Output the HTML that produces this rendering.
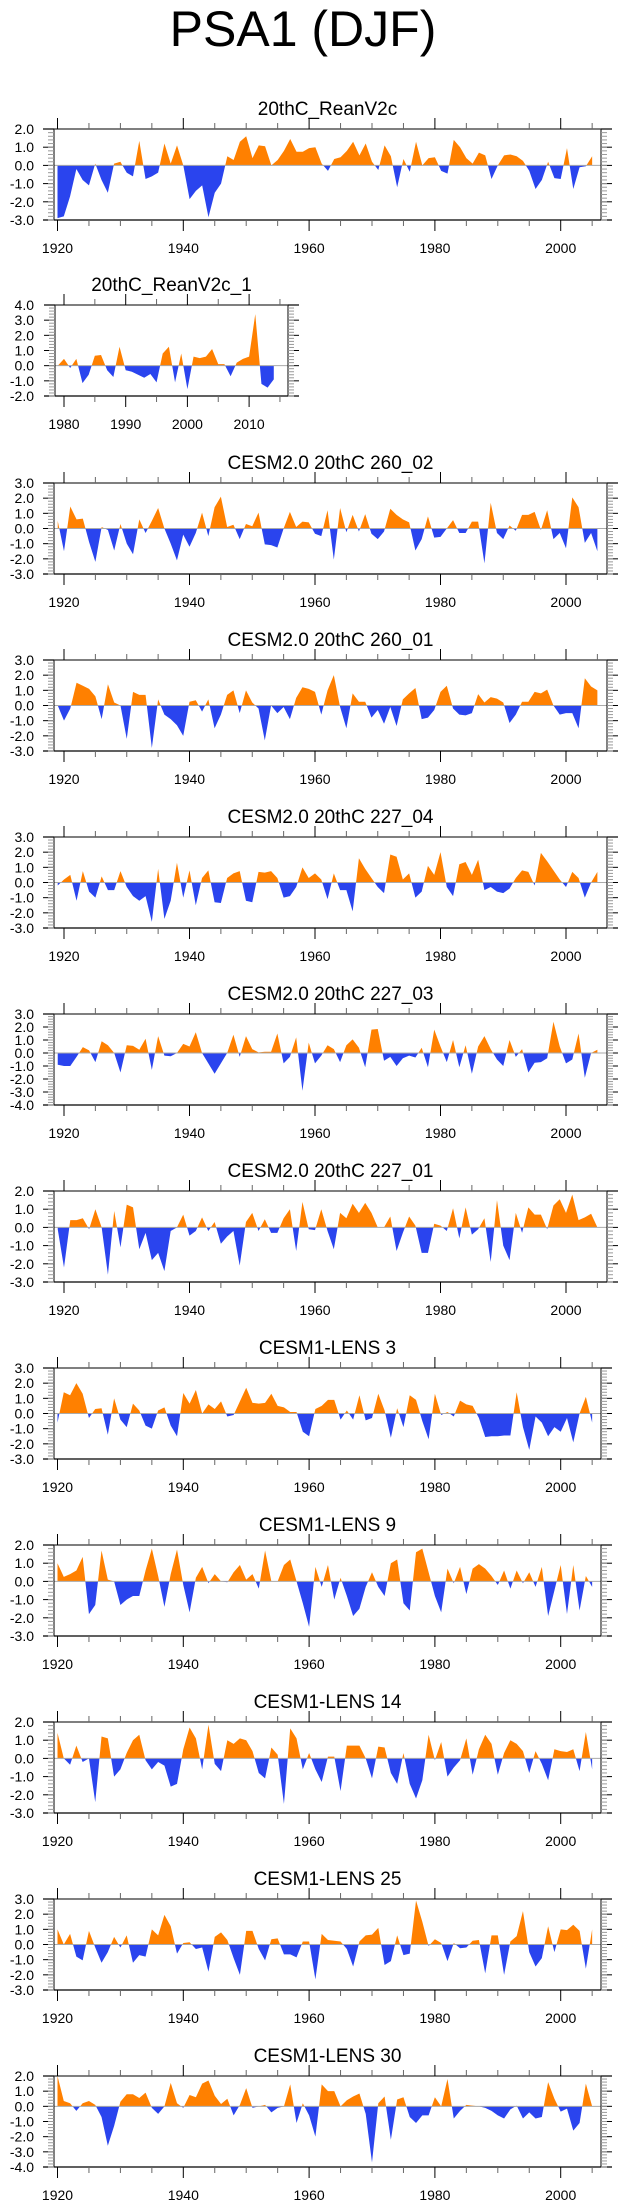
<!DOCTYPE html>
<html><head><meta charset="utf-8"><title>PSA1 (DJF)</title>
<style>
html,body{margin:0;padding:0;background:#fff;}
svg{display:block;font-family:"Liberation Sans",Arial,sans-serif;}
</style></head>
<body>
<svg id="fig" width="623" height="2209" viewBox="0 0 623 2209" xmlns="http://www.w3.org/2000/svg">
<text x="303" y="46" font-size="50" text-anchor="middle">PSA1 (DJF)</text>
</svg>
<script>
// ---- data ----
const titles = ["20thC_ReanV2c","20thC_ReanV2c_1","CESM2.0 20thC 260_02","CESM2.0 20thC 260_01","CESM2.0 20thC 227_04","CESM2.0 20thC 227_03","CESM2.0 20thC 227_01","CESM1-LENS 3","CESM1-LENS 9","CESM1-LENS 14","CESM1-LENS 25","CESM1-LENS 30"];
const startYears = [1920,1979,1919,1919,1919,1919,1919,1920,1920,1920,1920,1920];
const yMax = [2,4,3,3,3,3,2,3,2,2,3,2];
const yMin = [-3,-2,-3,-3,-3,-4,-3,-3,-3,-3,-3,-4];
const xTickLabels = [[1920,1940,1960,1980,2000],[1980,1990,2000,2010]];
const s0 = [-2.9,-2.8,-1.7,-0.2,-0.8,-1.1,0.1,-0.8,-1.5,0.1,0.2,-0.4,-0.6,1.35,-0.75,-0.6,-0.4,1.2,0.1,1.1,0.0,-1.85,-1.4,-1.1,-2.85,-1.5,-1.0,0.5,0.3,1.3,1.6,0.4,1.1,1.05,0.0,0.3,0.8,1.45,0.75,0.75,0.95,1.0,0.1,-0.3,0.35,0.45,0.8,1.3,0.55,1.2,0.2,-0.25,1.1,0.5,-1.2,0.35,-0.35,1.3,0.0,0.4,0.45,-0.3,-0.45,1.4,1.0,0.4,0.1,0.7,0.55,-0.75,0.0,0.55,0.6,0.5,0.25,-0.3,-1.3,-0.8,0.2,-0.7,-0.75,0.95,-1.3,-0.1,-0.05,0.5];
const s1 = [0.0,0.45,-0.15,0.45,-1.15,-0.6,0.65,0.7,-0.3,-0.75,1.25,-0.3,-0.4,-0.6,-0.8,-0.55,-1.1,0.8,1.25,-1.1,0.8,-1.55,0.6,0.5,0.6,1.1,0.1,0.1,-0.7,0.2,0.45,0.6,3.4,-1.2,-1.45,-0.9];
const s2 = [0.5,-1.5,1.45,0.6,0.65,-0.9,-2.2,0.1,-0.1,-1.45,0.3,-1.0,-1.7,0.6,-0.3,0.5,1.35,0.0,-1.0,-2.1,-0.4,-1.2,-0.3,1.05,-0.5,1.4,2.1,0.1,0.25,-0.7,0.3,0.15,1.05,-1.05,-1.1,-1.25,0.0,1.1,0.1,0.45,0.4,-0.35,-0.5,1.2,-2.05,1.35,-0.25,0.9,-0.2,0.95,-0.35,-0.7,-0.2,1.3,0.9,0.6,0.4,-1.45,-0.7,0.8,-0.6,-0.55,0.0,0.55,-0.3,-0.3,0.45,0.45,-2.3,1.7,-0.3,-0.7,0.2,-0.15,0.9,0.9,1.1,-0.1,1.2,-0.7,-0.3,-1.3,2.05,1.4,-0.95,-0.3,-1.5];
const s3 = [0,-1.0,-0.2,1.5,1.3,1.1,0.6,-0.9,1.4,0.2,0.0,-2.2,0.9,0.7,0.7,-2.8,0.4,-0.6,-0.9,-1.3,-2.0,0.25,0.35,-0.4,0.4,-1.5,-0.6,0.7,1.0,-0.5,1.0,0.2,-0.2,-2.3,0.0,-0.5,-0.1,-0.9,0.5,1.2,1.1,0.9,-0.6,1.0,2.0,-0.1,-1.5,0.8,0.25,0.25,-0.8,-0.3,-1.2,-0.1,-1.35,0.4,0.8,1.15,-0.9,-0.8,-0.3,0.9,1.3,-0.2,-0.6,-0.65,-0.5,0.75,0.2,0.55,0.45,0.2,-1.15,-0.6,0.25,0.25,0.9,0.8,1.05,0.0,-0.6,-0.5,-0.5,-1.5,1.8,1.25,1.0];
const s4 = [-0.2,0.2,0.5,-1.2,0.75,-0.6,-1.0,0.4,-0.5,-0.5,0.75,-0.3,-0.9,-1.2,-0.9,-2.6,0.9,-2.4,-1.2,1.3,-1.0,0.8,-1.5,0.3,0.8,-1.3,-1.35,0.3,0.6,0.75,-1.2,-1.3,0.7,0.65,0.75,0.3,-1.0,-0.9,-0.3,1.0,0.3,0.6,0.2,-1.1,0.6,-0.5,-0.5,-1.9,1.6,0.9,0.3,-0.3,-0.7,1.85,1.7,0.2,0.6,-1.0,-0.6,1.1,0.5,2.0,-0.3,-0.9,1.2,1.35,0.5,1.5,-0.5,-0.3,-0.6,-0.7,-0.4,0.3,0.8,0.7,-0.2,1.95,1.4,0.8,0.2,-0.3,0.7,0.3,-1.0,0.0,0.7];
const s5 = [-0.9,-1.0,-1.0,-0.3,0.45,0.2,-0.7,0.9,0.6,0.0,-1.5,0.6,0.55,0.25,1.1,-1.3,1.3,-0.2,-0.25,0.0,0.7,0.5,1.6,0.0,-0.8,-1.6,-0.8,0.0,1.4,-0.3,1.3,0.3,0.05,0.1,0.1,1.5,-0.8,-0.3,1.2,-2.9,0.8,-0.8,-0.2,0.6,0.3,-0.7,0.6,1.05,0.4,-1.1,1.8,1.85,-0.6,-0.3,-1.0,-0.4,-0.2,-0.35,0.4,-1.1,1.8,0.5,-0.7,1.0,-1.1,0.6,-1.6,0.5,1.3,0.3,-0.5,-1.0,1.0,-0.3,0.3,-1.5,-0.75,-0.7,-0.4,2.4,0.5,-0.8,-0.5,1.5,-1.9,0.0,0.25];
const s6 = [-0.1,-2.2,0.4,0.4,0.5,-0.1,1.0,0.0,-2.6,0.9,-1.1,1.25,1.1,-1.2,-0.3,-1.8,-1.4,-2.4,-0.2,0.0,0.7,-0.45,-0.2,0.55,-0.2,0.3,-0.9,-0.5,-0.2,-2.1,0.3,0.8,-0.2,0.45,-0.3,-0.3,0.5,1.0,-1.3,1.4,-0.1,-0.15,1.0,-0.2,-1.2,0.8,0.5,1.3,0.8,1.35,0.8,0.0,0.0,0.6,-1.3,-0.3,0.6,0.1,-1.4,-1.4,0.2,0.1,-0.2,1.05,-0.6,1.1,-0.4,-0.1,0.5,-1.9,1.5,-1.0,-1.8,0.8,-0.3,1.1,0.7,0.7,-0.1,1.2,1.55,0.8,1.8,0.4,0.55,0.75,0.0];
const s7 = [-0.6,1.4,1.2,2.0,1.3,-0.3,0.3,0.35,-1.4,1.0,-0.4,-0.9,0.65,0.2,-0.8,-1.0,0.2,0.4,-0.8,-1.5,1.35,0.65,1.55,0.0,0.6,0.3,0.8,-0.2,-0.1,0.8,1.7,0.7,0.65,0.7,1.3,0.5,0.4,0.1,0.1,-1.2,-1.5,0.3,0.5,0.9,0.9,-0.4,0.2,-0.4,1.2,-0.45,-0.3,1.3,0.2,-1.6,0.35,-0.9,1.2,0.9,-0.5,-1.7,1.3,-0.1,0.1,-0.2,0.85,0.6,0.5,-0.3,-1.55,-1.5,-1.5,-1.45,-1.45,1.4,-0.9,-2.4,-0.2,-0.6,-1.5,-0.9,-1.2,-0.3,-1.9,0.0,1.1,-0.6];
const s8 = [1.0,0.25,0.4,0.6,1.35,-1.8,-1.3,1.7,0.1,0.0,-1.3,-1.0,-0.8,-0.8,0.6,1.8,0.3,-1.4,0.4,1.75,-0.2,-1.7,0.2,0.8,-0.1,0.4,0.0,-0.05,0.5,0.9,0.1,0.4,-0.4,1.7,0.0,0.0,0.9,1.2,0.0,-1.2,-2.5,0.8,-0.3,0.9,-1.0,0.2,-0.8,-1.9,-1.5,-0.3,0.5,-0.3,-0.8,1.0,1.2,-1.2,-1.6,1.6,1.8,0.5,-0.8,-1.7,0.7,-0.1,0.8,-0.7,0.7,0.95,0.7,0.3,-0.2,0.6,-0.4,0.6,-0.1,0.5,-0.3,0.8,-1.9,-0.5,0.9,-1.8,0.9,-1.6,0.3,-0.3];
const s9 = [1.4,0.0,-0.35,0.7,-0.2,0.0,-2.4,1.2,1.1,-1.0,-0.6,0.3,1.0,1.3,-0.1,-0.6,-0.2,-0.4,-1.55,-1.4,0.5,1.7,1.1,-0.6,1.85,-0.3,-0.7,1.0,0.8,1.1,1.0,0.4,-0.8,-1.1,0.6,0.2,-2.5,1.65,1.1,-0.6,0.3,-0.6,-1.3,0.1,0.1,-1.8,0.7,0.7,0.7,0.0,-1.1,0.65,0.6,-0.8,-1.4,0.3,-1.4,-2.2,-1.2,1.3,-0.1,0.9,-1.0,-0.5,-0.1,1.1,-0.9,0.5,1.3,0.8,-0.9,0.3,1.0,0.8,0.4,-0.8,0.4,-0.3,-1.2,0.5,0.4,0.35,0.5,-0.7,1.45,-0.6];
const s10 = [1.0,0.0,0.7,-0.8,-1.05,0.9,-0.2,-1.2,-0.5,0.5,-0.2,0.6,-1.2,-0.7,-0.8,1.0,0.6,1.95,1.2,-0.6,0.1,0.15,-0.3,-0.2,-1.8,0.5,0.8,0.3,-0.9,-2.0,0.9,0.9,-0.3,-1.05,0.35,0.4,-0.65,-0.65,-0.85,0.2,0.2,-2.3,0.7,0.3,0.25,0.2,-0.3,-1.45,0.2,0.6,0.65,1.1,-1.35,-1.1,0.6,-0.7,-0.6,2.9,1.5,-0.1,0.35,0.1,-1.1,0.1,-0.25,-0.2,0.25,0.3,-1.9,0.6,0.6,-2.0,0.2,0.55,2.2,-0.5,-1.45,-0.9,1.2,-0.5,1.0,0.95,1.3,0.9,-1.6,1.0];
const s11 = [2.0,0.35,0.2,-0.3,0.2,0.35,0.1,-0.7,-2.6,-1.3,0.3,0.8,0.8,0.55,0.9,-0.1,-0.5,0.0,1.55,0.2,-0.1,0.75,0.6,1.5,1.7,0.7,0.15,0.5,-0.6,0.1,1.2,-0.1,0.0,0.1,-0.4,-0.1,0.0,1.45,-1.1,0.2,-0.6,-2.0,1.45,1.0,1.0,0.0,0.4,0.65,0.85,-0.5,-3.7,0.2,0.65,-2.2,0.45,0.6,-0.7,-1.1,-0.6,-0.6,0.6,0.0,1.8,-0.8,-0.3,0.1,0.05,0.0,-0.1,-0.3,-0.6,-0.8,-0.2,0.05,-0.8,-0.4,-0.8,-0.7,1.6,0.5,-0.35,-0.15,-1.6,-1.1,1.5,0.0];
const series = [s0,s1,s2,s3,s4,s5,s6,s7,s8,s9,s10,s11];

// ---- layout ----
const NS = "http://www.w3.org/2000/svg";
const svg = document.getElementById('fig');
const BOX_H = 91;
const tops = [129,305,483,660,837,1014,1191,1368,1545,1722,1899,2076];
const ORANGE = "#ff8000", BLUE = "#2a44ee";
function mk(tag, attrs, parent){
  const e = document.createElementNS(NS, tag);
  for (const k in attrs) e.setAttribute(k, attrs[k]);
  (parent||svg).appendChild(e);
  return e;
}
function geom(i){
  if (i === 1) return {left:55,right:288,x0:64,y0:1980,ppy:6.17,major:10,minor:5};
  if (i >= 2 && i <= 6) return {left:54,right:607,x0:64,y0:1920,ppy:6.275,major:20,minor:5};
  return {left:54,right:601,x0:57.5,y0:1920,ppy:6.29,major:20,minor:5};
}
titles.forEach((t, i) => {
  const g0 = geom(i);
  const top = tops[i], bot = top + BOX_H;
  const xs = yr => g0.x0 + (yr - g0.y0) * g0.ppy;
  const ys = v => top + (yMax[i] - v) / (yMax[i] - yMin[i]) * BOX_H;
  const g = mk('g', {});
  
  
  const tt = mk('text', {x:(g0.left+g0.right)/2, y: top - 14, 'font-size':19, 'text-anchor':'middle'}, g);
  tt.textContent = t;
  
  
  const defs = mk('defs', {}, g);
  const y0 = ys(0);
  const cpU = mk('clipPath', {id:'cu'+i}, defs);
  mk('rect', {x:g0.left, y:top, width:g0.right-g0.left, height:y0-top}, cpU);
  const cpD = mk('clipPath', {id:'cd'+i}, defs);
  mk('rect', {x:g0.left, y:y0, width:g0.right-g0.left, height:bot-y0}, cpD);
  const d = series[i];
  let pts = xs(startYears[i]).toFixed(2) + ',' + y0.toFixed(2) + ' ';
  d.forEach((v, k) => { pts += xs(startYears[i]+k).toFixed(2) + ',' + ys(v).toFixed(2) + ' '; });
  pts += xs(startYears[i]+d.length-1).toFixed(2) + ',' + y0.toFixed(2);
  const pu = mk('polygon', {points:pts, fill:ORANGE, 'clip-path':'url(#cu'+i+')'}, g);
  
  
  const pd = mk('polygon', {points:pts, fill:BLUE, 'clip-path':'url(#cd'+i+')'}, g);
  
  
  const zl = mk('line', {x1:g0.left, x2:g0.right, y1:y0, y2:y0, stroke:'#aaaaaa', 'stroke-width':1}, g);
  
  
  mk('rect', {x:g0.left, y:top, width:g0.right-g0.left, height:BOX_H, fill:'none', stroke:'#000', 'stroke-width':1}, g);
  mk('line', {x1:g0.left-11, x2:g0.right+11, y1:top, y2:top, stroke:'#333', 'stroke-width':1.2}, g);
  mk('line', {x1:g0.left-11, x2:g0.right+11, y1:bot, y2:bot, stroke:'#000', 'stroke-width':1.2}, g);
  for (let v = yMin[i]; v <= yMax[i] + 1e-6; v += 1) {
    const y = ys(v);
    mk('line', {x1:g0.left-11, x2:g0.left, y1:y, y2:y, stroke:'#000'}, g);
    mk('line', {x1:g0.right, x2:g0.right+11, y1:y, y2:y, stroke:'#000'}, g);
    const lb = mk('text', {x:34, y:y+5, 'font-size':14, 'text-anchor':'end'}, g);
    lb.textContent = v.toFixed(1);
    
    
  }
  for (let v = yMin[i]; v < yMax[i] - 1e-6; v += 0.2) {
    const y = ys(v);
    mk('line', {x1:g0.left-6, x2:g0.left, y1:y, y2:y, stroke:'#999'}, g);
    mk('line', {x1:g0.right, x2:g0.right+6, y1:y, y2:y, stroke:'#999'}, g);
  }
  const labels = xTickLabels[i === 1 ? 1 : 0];
  for (let yr = 1915; yr <= 2015; yr += g0.minor) {
    const x = xs(yr);
    if (x < g0.left - 0.5 || x > g0.right + 0.5) continue;
    const maj = yr % g0.major === 0;
    const L = maj ? 11 : 6;
    mk('line', {x1:x, x2:x, y1:top-L, y2:top, stroke:maj?'#000':'#666'}, g);
    mk('line', {x1:x, x2:x, y1:bot, y2:bot+L, stroke:maj?'#000':'#666'}, g);
  }
  labels.forEach(yr => {
    const lb = mk('text', {x:xs(yr), y:bot+33, 'font-size':14, 'text-anchor':'middle'}, g);
    lb.textContent = yr;
    
    
  });
});
</script>
</body></html>
